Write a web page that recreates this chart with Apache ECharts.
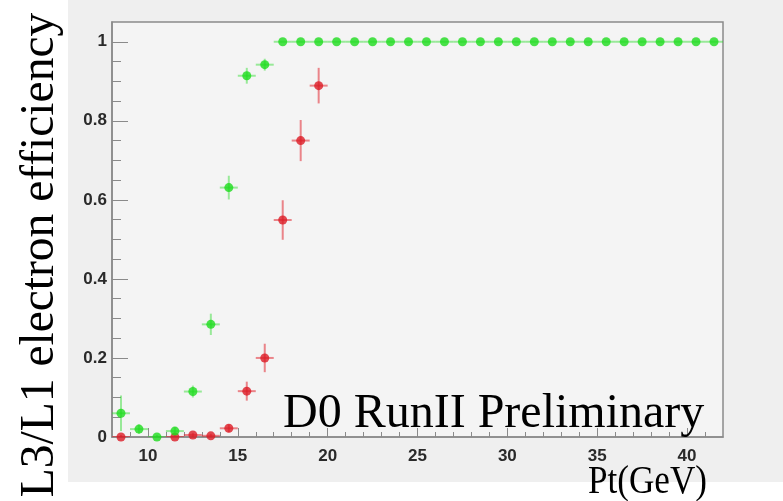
<!DOCTYPE html>
<html><head><meta charset="utf-8">
<script src="https://cdn.jsdelivr.net/npm/echarts@6/dist/echarts.min.js"></script>
<style>html,body{margin:0;padding:0;background:#fff}#c{width:783px;height:501px}</style>
</head><body><div id="c"></div>
<script>
// ---- data ----
const greenPt  = [8.5, 9.5, 10.5, 11.5, 12.5, 13.5, 14.5, 15.5, 16.5, 17.5, 18.5, 19.5, 20.5, 21.5, 22.5, 23.5, 24.5, 25.5, 26.5, 27.5, 28.5, 29.5, 30.5, 31.5, 32.5, 33.5, 34.5, 35.5, 36.5, 37.5, 38.5, 39.5, 40.5, 41.5];
const greenEff = [0.06, 0.02, 0.0, 0.015, 0.115, 0.285, 0.631, 0.914, 0.942, 1, 1, 1, 1, 1, 1, 1, 1, 1, 1, 1, 1, 1, 1, 1, 1, 1, 1, 1, 1, 1, 1, 1, 1, 1];
const greenErr = [0.045, 0.012, 0.005, 0.01, 0.015, 0.027, 0.03, 0.02, 0.015, 0, 0, 0, 0, 0, 0, 0, 0, 0, 0, 0, 0, 0, 0, 0, 0, 0, 0, 0, 0, 0, 0, 0, 0, 0];
const redPt    = [8.5, 11.5, 12.5, 13.5, 14.5, 15.5, 16.5, 17.5, 18.5, 19.5];
const redEff   = [0.0, 0.0, 0.005, 0.003, 0.022, 0.116, 0.2, 0.549, 0.75, 0.889];
const redErr   = [0.005, 0.005, 0.005, 0.005, 0.01, 0.024, 0.036, 0.05, 0.052, 0.045];
const binHalfWidth = 0.5;
const xMajorTicks = [10, 15, 20, 25, 30, 35, 40];
const xMinorTicks = [9, 11, 12, 13, 14, 16, 17, 18, 19, 21, 22, 23, 24, 26, 27, 28, 29, 31, 32, 33, 34, 36, 37, 38, 39, 41];
const yMajorTicks = [0, 0.2, 0.4, 0.6, 0.8, 1];
const yMinorTicks = [0.05, 0.1, 0.15, 0.25, 0.3, 0.35, 0.45, 0.5, 0.55, 0.65, 0.7, 0.75, 0.85, 0.9, 0.95];
const yTitle = 'L3/L1 electron efficiency';
const xTitle = 'Pt(GeV)';
const stamp  = 'D0 RunII Preliminary';

const chart = echarts.init(document.getElementById('c'), null, {renderer: 'canvas'});

function rows(xs, ys, es) { return xs.map((x, i) => [x, ys[i], es[i]]); }

function errRender(color) {
  return function (params, api) {
    const x = api.value(0), y = api.value(1), e = api.value(2);
    const l = api.coord([x - binHalfWidth, y]), r = api.coord([x + binHalfWidth, y]);
    const t = api.coord([x, y + e]), b = api.coord([x, y - e]);
    return {type: 'group', children: [
      {type: 'line', shape: {x1: l[0], y1: l[1], x2: r[0], y2: r[1]}, style: {stroke: color, lineWidth: 2}},
      {type: 'line', shape: {x1: t[0], y1: t[1], x2: b[0], y2: b[1]}, style: {stroke: color, lineWidth: 2}}
    ]};
  };
}

const axisGray = '#8a8a8a';
const labelFont = {fontFamily: 'Liberation Sans', fontWeight: 'bold', fontSize: 17, color: '#2a2a2a'};

chart.setOption({
  animation: false,
  backgroundColor: '#ffffff',
  grid: {left: 112, right: 60, top: 22, bottom: 64, show: true,
         backgroundColor: '#f4f4f4', borderColor: axisGray, borderWidth: 1.5},
  xAxis: [
    {type: 'value', min: 8, max: 42, position: 'bottom',
     axisLine: {show: true, lineStyle: {color: axisGray, width: 1.5}},
     axisTick: {show: true, inside: true, length: 9, customValues: xMajorTicks, lineStyle: {color: axisGray, width: 1}},
     axisLabel: Object.assign({customValues: xMajorTicks, margin: 11}, labelFont),
     splitLine: {show: false}},
    {type: 'value', min: 8, max: 42, position: 'bottom',
     axisLine: {show: false},
     axisTick: {show: true, inside: true, length: 5, customValues: xMinorTicks, lineStyle: {color: axisGray, width: 1}},
     axisLabel: {show: false}, splitLine: {show: false}}
  ],
  yAxis: [
    {type: 'value', min: 0, max: 1.05, position: 'left',
     axisLine: {show: true, lineStyle: {color: axisGray, width: 1.5}},
     axisTick: {show: true, inside: true, length: 16, customValues: yMajorTicks, lineStyle: {color: axisGray, width: 1}},
     axisLabel: Object.assign({customValues: yMajorTicks, margin: 5}, labelFont),
     splitLine: {show: false}},
    {type: 'value', min: 0, max: 1.05, position: 'left',
     axisLine: {show: false},
     axisTick: {show: true, inside: true, length: 9, customValues: yMinorTicks, lineStyle: {color: axisGray, width: 1}},
     axisLabel: {show: false}, splitLine: {show: false}}
  ],
  series: [
    {type: 'custom', clip: true, renderItem: errRender('rgba(225,40,50,0.55)'), data: rows(redPt, redEff, redErr), z: 2},
    {type: 'scatter', symbol: 'circle', symbolSize: 9, itemStyle: {color: '#dc1c26'}, data: rows(redPt, redEff, redErr), z: 3},
    {type: 'custom', clip: true, renderItem: errRender('rgba(40,220,40,0.45)'), data: rows(greenPt, greenEff, greenErr), z: 4},
    {type: 'scatter', symbol: 'circle', symbolSize: 9, itemStyle: {color: '#1ddc1d'}, data: rows(greenPt, greenEff, greenErr), z: 5}
  ],
  graphic: [
    {type: 'rect', z: -10, shape: {x: 68, y: 0, width: 715, height: 482}, style: {fill: '#efefef'}},
    {type: 'text', z: 100, x: 283, y: 414, style: {text: stamp, font: '48px "Liberation Serif"', fill: '#000', textAlign: 'left', textVerticalAlign: 'middle'}},
    {type: 'text', z: 100, x: 588, y: 483, scaleX: 0.9, style: {text: xTitle, font: '39px "Liberation Serif"', fill: '#000', textAlign: 'left', textVerticalAlign: 'middle'}},
    {type: 'text', z: 100, x: 41, y: 255, rotation: Math.PI / 2, style: {text: yTitle, font: '47.5px "Liberation Serif"', fill: '#000', textAlign: 'center', textVerticalAlign: 'middle'}}
  ]
});
</script>
</body></html>
